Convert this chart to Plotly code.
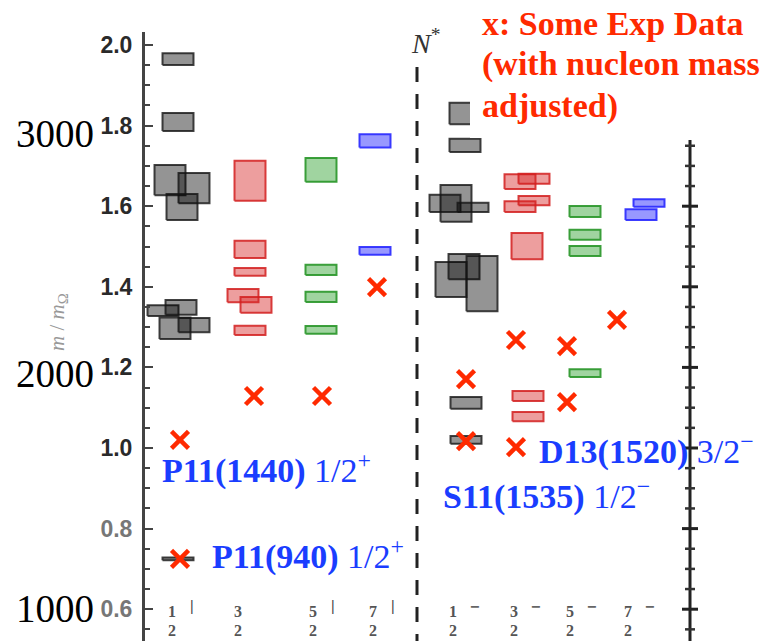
import plotly.graph_objects as go

W, H = 769, 641

# ---------------- data ----------------
# spectrum columns (J^P)
col_num = ["1", "3", "5", "7", "1", "3", "5", "7"]
col_den = ["2", "2", "2", "2", "2", "2", "2", "2"]
col_parity = ["+", "+", "+", "+", "−", "−", "−", "−"]
col_group = ["g", "r", "gr", "b", "g", "r", "gr", "b"]

# lattice levels: column index, mass m/m_Omega, half error
lv_col = [0, 0, 0, 0, 0, 0, 0, 0, 0, 0,
          1, 1, 1, 1, 1, 1,
          2, 2, 2, 2,
          3, 3,
          4, 4, 4, 4, 4, 4, 4, 4, 4, 4,
          5, 5, 5, 5, 5, 5, 5,
          6, 6, 6, 6,
          7, 7]
lv_mass = [1.965, 1.809, 1.665, 1.645, 1.598, 1.341, 1.349, 1.297, 1.305, 0.725,
           1.663, 1.493, 1.437, 1.378, 1.355, 1.292,
           1.690, 1.442, 1.375, 1.293,
           1.762, 1.489,
           1.830, 1.751, 1.607, 1.607, 1.597, 1.418, 1.450, 1.408, 1.112, 1.020,
           1.661, 1.668, 1.599, 1.614, 1.501, 1.129, 1.078,
           1.587, 1.529, 1.489, 1.186,
           1.608, 1.579]
lv_err = [0.017, 0.025, 0.040, 0.040, 0.035, 0.016, 0.021, 0.029, 0.020, 0.006,
          0.052, 0.024, 0.012, 0.019, 0.022, 0.014,
          0.032, 0.015, 0.015, 0.012,
          0.019, 0.012,
          0.029, 0.019, 0.048, 0.024, 0.014, 0.046, 0.034, 0.071, 0.017, 0.012,
          0.021, 0.015, 0.016, 0.014, 0.035, 0.015, 0.014,
          0.016, 0.015, 0.015, 0.012,
          0.012, 0.016]
# horizontal offsets of overlapping levels (layout, axis units)
lv_dx = [0, 0, -8, 16, 4, -15, 3, -3, 16, 0,
         0, 0, 0, -7, 6, 0,
         0, 0, 0, 0,
         0, 0,
         0, 0, -9, -20, 8, -14, -1, 17, 1, 1,
         -8, 6, -8, 6, -1, 0, 0,
         0, 0, 0, 0,
         4, -4]

# experimental points (red crosses)
exp_col = [0, 0, 1, 2, 3, 4, 4, 5, 5, 6, 6, 7]
exp_mass = [1.020, 0.725, 1.129, 1.129, 1.399, 1.171, 1.017, 1.268, 1.002, 1.253, 1.114, 1.318]
exp_dx = [2, 2, 4, 1, 2, 1, 1, -12, -12, -18, -18, -28]

left_tick_vals = [0.6, 0.8, 1.0, 1.2, 1.4, 1.6, 1.8, 2.0]
left_tick_text = ["0.6", "0.8", "1.0", "1.2", "1.4", "1.6", "1.8", "2.0"]
right_major = [0.6, 0.8, 1.0, 1.2, 1.4, 1.6]
right_minor = [0.55, 0.65, 0.70, 0.75, 0.85, 0.90, 0.95, 1.05, 1.10, 1.15,
               1.25, 1.30, 1.35, 1.45, 1.50, 1.55, 1.65, 1.70, 1.75]
mev_labels = ["3000", "2000", "1000"]

# ---------------- layout helpers ----------------
col_x = [178, 250, 321, 375, 465, 528, 585, 645]
HALF_W = 16.5
PXU = 1.0 / 403.0              # one pixel in mass units
Y_BOT = 2.0 - (H - 45) * PXU
Y_TOP = 2.0 + (45 - 32) * PXU


def vy(py):
    return 2.0 - (py - 45) * PXU


def py2p(py):
    return 1 - py / H


styles = {
    "g": ("rgba(0,0,0,0.42)", "rgba(20,20,20,0.8)"),
    "r": ("rgba(214,39,40,0.45)", "rgba(210,30,30,0.85)"),
    "gr": ("rgba(44,160,44,0.45)", "rgba(40,150,40,0.9)"),
    "b": ("rgba(50,50,255,0.5)", "rgba(40,40,255,0.9)"),
}

fig = go.Figure()

for c, m, e, dx in zip(lv_col, lv_mass, lv_err, lv_dx):
    xc = col_x[c] + dx
    fill, line = styles[col_group[c]]
    hw = HALF_W - 1
    he = max(e - PXU, 0.6 * PXU)
    fig.add_trace(go.Scatter(
        x=[xc - hw, xc + hw, xc + hw, xc - hw, xc - hw],
        y=[m - he, m - he, m + he, m + he, m - he],
        mode="lines", fill="toself", fillcolor=fill,
        line=dict(color=line, width=2),
        hoverinfo="skip", showlegend=False))

# dashed separator line
fig.add_trace(go.Scatter(x=[417, 417], y=[vy(67), Y_BOT], mode="lines",
                         line=dict(color="#222", width=3, dash="15px,12px"),
                         hoverinfo="skip", showlegend=False))

# right-hand axis
rx, ry = [690, 690, None], [Y_BOT, vy(140), None]
for v in right_major:
    rx += [682, 698, None]
    ry += [v, v, None]
fig.add_trace(go.Scatter(x=rx, y=ry, mode="lines", line=dict(color="#222", width=3),
                         hoverinfo="skip", showlegend=False))
mx, my = [], []
for v in right_minor:
    mx += [685, 695, None]
    my += [v, v, None]
fig.add_trace(go.Scatter(x=mx, y=my, mode="lines", line=dict(color="#333", width=2.5),
                         hoverinfo="skip", showlegend=False))

# experimental crosses
fig.add_trace(go.Scatter(
    x=[col_x[c] + dx for c, dx in zip(exp_col, exp_dx)], y=exp_mass,
    mode="markers",
    marker=dict(symbol="x-thin", size=17, line=dict(color="#ff2a00", width=4.5)),
    hoverinfo="skip", showlegend=False))

# ---------------- annotations ----------------
ann = []
red = "#ff2a00"
blue = "#1a3dff"
for txt, py in [("x: Some Exp Data", 23.5), ("(with nucleon mass", 64.5), ("adjusted)", 105.5)]:
    ann.append(dict(x=480, y=py2p(py), xref="x", yref="paper", xanchor="left", yanchor="middle",
                    text="<b>" + txt + "</b>", showarrow=False,
                    font=dict(family="Liberation Serif", size=34, color=red)))

for bold, rest, sup, x, py in [("P11(1440)", " 1/2", "+", 160, 468),
                               ("P11(940)", " 1/2", "+", 210, 554),
                               ("D13(1520)", " 3/2", "−", 537, 450),
                               ("S11(1535)", " 1/2", "−", 441, 494)]:
    ann.append(dict(x=x, y=py2p(py), xref="x", yref="paper", xanchor="left", yanchor="middle",
                    text="<b>" + bold + "</b>" + rest + "<sup>" + sup + "</sup>", showarrow=False,
                    font=dict(family="Liberation Serif", size=34, color=blue)))

for txt, py in zip(mev_labels, [133, 373, 608]):
    ann.append(dict(x=96, y=py2p(py), xref="x", yref="paper", xanchor="right", yanchor="middle",
                    text=txt, showarrow=False,
                    font=dict(family="Liberation Serif", size=39, color="black")))

ann.append(dict(x=425, y=py2p(42), xref="x", yref="paper", xanchor="center", yanchor="middle",
                text="<i>N</i><sup>*</sup>", showarrow=False,
                font=dict(family="Liberation Serif", size=28, color="#333")))

ann.append(dict(x=58, y=py2p(322), xref="x", yref="paper", xanchor="center", yanchor="middle",
                text="<i>m</i> / <i>m</i><sub>Ω</sub>", textangle=-90, showarrow=False,
                font=dict(family="Liberation Serif", size=21, color="#999")))

num_x = [172, 238, 313, 373, 453, 514, 570, 628]
for i in range(8):
    ann.append(dict(x=num_x[i], y=py2p(611), xref="x", yref="paper", xanchor="center", yanchor="middle",
                    text="<b>" + col_num[i] + "</b>", showarrow=False,
                    font=dict(family="Liberation Serif", size=16, color="#555")))
    ann.append(dict(x=num_x[i], y=py2p(630), xref="x", yref="paper", xanchor="center", yanchor="middle",
                    text="<b>" + col_den[i] + "</b>", showarrow=False,
                    font=dict(family="Liberation Serif", size=16, color="#555")))
    if col_parity[i] == "+":
        if i == 1:
            continue
        ann.append(dict(x=num_x[i] + 20, y=py2p(606), xref="x", yref="paper", xanchor="center",
                        yanchor="middle", text="|", showarrow=False,
                        font=dict(family="Liberation Sans", size=14, color="#444")))
    else:
        ann.append(dict(x=num_x[i] + 21, y=py2p(606), xref="x", yref="paper", xanchor="center",
                        yanchor="middle", text="<b>−</b>", showarrow=False,
                        font=dict(family="Liberation Sans", size=16, color="#666")))

tick_text = []
for v, t in zip(left_tick_vals, left_tick_text):
    if v < 0.9:
        tick_text.append("<span style='color:#777'>" + t + "</span>")
    else:
        tick_text.append(t)

fig.update_layout(
    width=W, height=H,
    margin=dict(l=0, r=0, t=0, b=0),
    paper_bgcolor="white", plot_bgcolor="white",
    showlegend=False,
    xaxis=dict(range=[0, W], domain=[0, 1], visible=False, fixedrange=True),
    yaxis=dict(domain=[0, (H - 32) / H], range=[Y_BOT, Y_TOP],
               anchor="free", position=143 / W, side="left",
               showline=True, linecolor="#444", linewidth=3,
               ticks="inside", ticklen=8, tickwidth=2, tickcolor="#444",
               tickvals=left_tick_vals, ticktext=tick_text,
               tickfont=dict(family="Liberation Sans", size=23, color="#2a2a2a", weight="bold"),
               ticklabelstandoff=5, fixedrange=True,
               minor=dict(ticks="inside", dtick=0.05, tick0=0.6, ticklen=5, tickwidth=2,
                          tickcolor="#444", showgrid=False),
               showgrid=False, zeroline=False),
    shapes=[dict(type="rect", xref="x", yref="paper", x0=470, x1=W, y0=py2p(138), y1=1,
                 fillcolor="white", line=dict(width=0), layer="above")],
    annotations=ann,
)

fig.write_html("out.html", config={"displayModeBar": False, "staticPlot": True},
               post_script="document.body.style.margin='0';document.body.style.overflow='hidden';")
